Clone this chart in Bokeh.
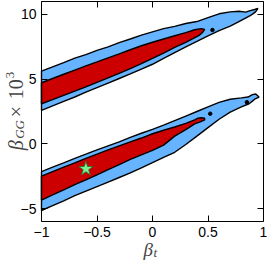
import math
from bokeh.plotting import figure
from bokeh.models import Range1d, LinearAxis, FixedTicker, Label
from bokeh.embed import file_html
from bokeh.resources import INLINE

# ---- ticks ----
x_ticks = [-1, -0.5, 0, 0.5, 1]
x_tick_labels = ["\u22121", "\u22120.5", "0", "0.5", "1"]
y_ticks = [-5, 0, 5, 10]
y_tick_labels = ["\u22125", "0", "5", "10"]
x_lim = (-1, 1)
y_lim = (-6, 11)

# ---- upper band, outer (95%) contour ----
upper_outer_x = [-1.0, -0.9, -0.8, -0.7, -0.6, -0.5, -0.4, -0.3, -0.2, -0.1, 0.0, 0.1, 0.2, 0.3, 0.4,
                 0.5, 0.6, 0.7, 0.78, 0.84, 0.88, 0.92, 0.95, 0.93, 0.91, 0.88,
                 0.8, 0.7, 0.6, 0.5, 0.4, 0.3, 0.2, 0.1, 0.0, -0.1, -0.2, -0.3, -0.4, -0.5,
                 -0.6, -0.7, -0.8, -0.9, -1.0]
upper_outer_y = [5.62, 5.95, 6.28, 6.62, 6.9, 7.22, 7.5, 7.82, 8.1, 8.4, 8.65, 8.9, 9.08, 9.3, 9.45,
                 9.75, 10.05, 10.2, 10.25, 10.18, 10.3, 10.38, 10.47, 10.22, 10.08, 9.9,
                 9.55, 9.1, 8.75, 8.35, 7.92, 7.5, 7.05, 6.6, 6.15, 5.78, 5.4, 5.05, 4.7, 4.35,
                 4.0, 3.62, 3.28, 2.93, 2.58]

# ---- upper band, inner (68%) contour ----
upper_inner_x = [-1.0, -0.9, -0.8, -0.7, -0.6, -0.5, -0.4, -0.3, -0.2, -0.1, 0.0, 0.1, 0.2, 0.3,
                 0.38, 0.44, 0.47, 0.45, 0.42,
                 0.3, 0.2, 0.1, 0.0, -0.1, -0.2, -0.3, -0.4, -0.5, -0.6, -0.7, -0.8, -0.9, -1.0]
upper_inner_y = [4.72, 5.05, 5.38, 5.7, 6.02, 6.33, 6.65, 6.95, 7.27, 7.58, 7.85, 8.1, 8.35, 8.6,
                 8.82, 8.9, 8.85, 8.6, 8.38,
                 7.85, 7.45, 7.02, 6.6, 6.2, 5.82, 5.45, 5.1, 4.75, 4.4, 4.08, 3.75, 3.42, 3.1]

# ---- lower band, outer (95%) contour ----
lower_outer_x = [-1.0, -0.9, -0.8, -0.7, -0.6, -0.5, -0.4, -0.3, -0.2, -0.1, 0.0, 0.1, 0.2, 0.3, 0.4,
                 0.5, 0.6, 0.7, 0.8, 0.86, 0.9, 0.93, 0.96, 0.92, 0.9, 0.87,
                 0.8, 0.7, 0.6, 0.5, 0.4, 0.3, 0.2, 0.1, 0.0, -0.1, -0.2, -0.3, -0.4, -0.5,
                 -0.6, -0.7, -0.8, -0.9, -1.0]
lower_outer_y = [-2.15, -1.8, -1.47, -1.12, -0.8, -0.47, -0.15, 0.15, 0.5, 0.82, 1.12, 1.45, 1.8, 2.15, 2.5,
                 2.85, 3.2, 3.45, 3.55, 3.62, 3.8, 3.85, 3.62, 3.45, 3.3, 3.1,
                 2.85, 2.45, 1.9, 1.25, 0.6, -0.05, -0.65, -1.05, -1.45, -1.85, -2.25, -2.6, -2.95, -3.3,
                 -3.65, -4.0, -4.4, -4.78, -5.15]

# ---- lower band, inner (68%) contour ----
lower_inner_x = [-1.0, -0.9, -0.8, -0.7, -0.6, -0.5, -0.4, -0.3, -0.2, -0.1, 0.0, 0.1, 0.2, 0.3,
                 0.38, 0.41, 0.44, 0.47, 0.47, 0.43,
                 0.38, 0.3, 0.2, 0.1, 0.0, -0.1, -0.2, -0.3, -0.4, -0.5, -0.6, -0.7, -0.8, -0.9, -1.0]
lower_inner_y = [-2.5, -2.15, -1.8, -1.47, -1.12, -0.8, -0.47, -0.15, 0.15, 0.45, 0.78, 1.05, 1.3, 1.58,
                 1.85, 1.98, 2.02, 1.98, 1.85, 1.7,
                 1.55, 1.1, 0.6, -0.1, -0.5, -0.85, -1.2, -1.6, -2.0, -2.4, -2.78, -3.15, -3.55, -3.95, -4.34]

# ---- small isolated contour islands ----
dot_x = [0.54, 0.52, 0.85]
dot_y = [8.8, 2.33, 3.22]

# ---- fiducial point (star) ----
star_x = [-0.6]
star_y = [-1.93]

BLUE = "#66b3ff"
RED = "#cc0000"
LABEL_COLOR = "#444444"

# canvas layout (pixels): the data box sits at these canvas positions
W, H = 270, 260
BOX_L, BOX_R, BOX_T, BOX_B = 41, 263, 1, 221
sx = (BOX_R - BOX_L) / (x_lim[1] - x_lim[0])
sy = (BOX_B - BOX_T) / (y_lim[1] - y_lim[0])
xr = Range1d(x_lim[0] - BOX_L / sx, x_lim[1] + (W - BOX_R) / sx)
yr = Range1d(y_lim[0] - (H - BOX_B) / sy, y_lim[1] + BOX_T / sy)

p = figure(width=W, height=H, x_range=xr, y_range=yr,
           output_backend="svg", toolbar_location=None, min_border=0)
p.background_fill_color = "white"
p.border_fill_color = "white"
p.outline_line_color = None
p.grid.visible = False

for xs, ys, col in [(upper_outer_x, upper_outer_y, BLUE), (upper_inner_x, upper_inner_y, RED),
                    (lower_outer_x, lower_outer_y, BLUE), (lower_inner_x, lower_inner_y, RED)]:
    p.patch(xs, ys, fill_color=col, line_color="black", line_width=1.4)

p.scatter(dot_x, dot_y, size=3.5, color="black")
p.scatter(star_x, star_y, marker="star", size=15, fill_color="#7df08f",
          line_color="#1f6f30", line_width=0.8)

def style(ax):
    ax.major_tick_in = 6
    ax.major_tick_out = 0
    ax.minor_tick_in = 6
    ax.minor_tick_out = 0
    ax.axis_line_color = "black"
    ax.axis_line_width = 1
    ax.major_tick_line_color = "black"
    ax.minor_tick_line_color = "black"
    ax.major_label_text_font = "Liberation Sans"
    ax.major_label_text_font_size = "14px"
    ax.major_label_text_color = "black"
    ax.major_label_standoff = 5

xa = p.xaxis[0]
ya = p.yaxis[0]
style(xa)
style(ya)
xa.fixed_location = y_lim[0]
xa.bounds = x_lim
xa.ticker = FixedTicker(ticks=x_ticks)
xa.major_label_overrides = dict(zip(x_ticks, x_tick_labels))
ya.fixed_location = x_lim[0]
ya.bounds = y_lim
ya.ticker = FixedTicker(ticks=y_ticks)
ya.major_label_overrides = dict(zip(y_ticks, y_tick_labels))

top_ax = LinearAxis(fixed_location=y_lim[1], bounds=x_lim,
                    ticker=FixedTicker(ticks=[], minor_ticks=x_ticks))
right_ax = LinearAxis(fixed_location=x_lim[1], bounds=y_lim,
                      ticker=FixedTicker(ticks=[], minor_ticks=y_ticks))
style(top_ax)
style(right_ax)
p.add_layout(top_ax, "above")
p.add_layout(right_ax, "right")

def lab(text, x, y, xo, yo, size, italic=True, angle=0.0):
    p.add_layout(Label(x=x, y=y, x_units="data", y_units="data", x_offset=xo, y_offset=yo,
                       text=text, text_font="Liberation Serif",
                       text_font_style="italic" if italic else "normal",
                       text_font_size=size, text_color=LABEL_COLOR,
                       text_align="left", text_baseline="alphabetic", angle=angle))

# x axis label: beta_t
lab("\u03b2", 0, y_lim[0], -9, -28, "19px")
lab("t", 0, y_lim[0], 1, -31, "13px")

# y axis label: beta_GG x 10^3 (rotated)
A = math.pi / 2
Y0 = -0.5
lab("\u03b2", x_lim[0], Y0, -26, 0, "20px", angle=A)
lab("GG", x_lim[0], Y0, -22, 11.5, "13px", angle=A)
lab("\u00d7", x_lim[0], Y0, -26, 33, "20px", italic=False, angle=A)
lab("10", x_lim[0], Y0, -26, 51, "20px", italic=False, angle=A)
lab("3", x_lim[0], Y0, -32, 72, "13px", italic=False, angle=A)

open("out.html", "w").write(file_html(p, INLINE))
